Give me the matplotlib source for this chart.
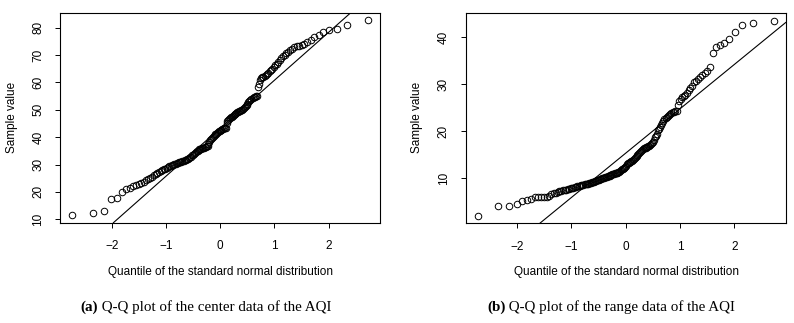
import numpy as np
import matplotlib
matplotlib.use("Agg")
import matplotlib.pyplot as plt
from statistics import NormalDist

# sorted sample values (n = 158 each)
center_aqi = [
    11.6, 12.4, 12.9, 17.3, 17.8, 19.8, 21.0, 21.4, 22.0, 22.4,
    22.9, 23.4, 23.8, 24.3, 24.7, 25.2, 25.6, 26.0, 26.4, 26.8,
    27.2, 27.5, 27.9, 28.3, 28.5, 28.8, 29.0, 29.3, 29.5, 29.7,
    29.9, 30.1, 30.3, 30.5, 30.6, 30.8, 30.9, 31.0, 31.2, 31.4,
    31.5, 31.7, 31.9, 32.1, 32.3, 32.6, 32.9, 33.3, 33.6, 34.0,
    34.3, 34.5, 34.8, 35.0, 35.3, 35.5, 35.6, 35.8, 35.9, 36.1,
    36.2, 36.4, 36.5, 36.7, 36.9, 37.5, 38.3, 39.0, 39.5, 39.8,
    40.1, 40.4, 40.7, 41.0, 41.3, 41.6, 41.9, 42.1, 42.3, 42.5,
    42.7, 42.9, 43.0, 43.2, 43.3, 43.5, 45.3, 45.8, 46.2, 46.6,
    46.9, 47.2, 47.5, 47.8, 48.0, 48.3, 48.5, 48.8, 49.0, 49.2,
    49.4, 49.6, 49.8, 50.0, 50.3, 50.6, 51.0, 51.4, 51.8, 52.2,
    52.7, 53.2, 53.6, 54.0, 54.3, 54.5, 54.7, 54.9, 55.1, 58.3,
    59.5, 60.8, 61.5, 61.8, 62.1, 62.4, 62.8, 63.2, 63.6, 64.1,
    64.6, 65.0, 65.6, 66.2, 66.8, 67.3, 68.0, 68.8, 69.5, 70.0,
    70.6, 71.2, 71.8, 72.3, 72.8, 73.1, 73.4, 73.6, 74.0, 74.8,
    75.5, 76.6, 77.2, 78.4, 79.0, 79.5, 81.0, 82.6,
]

range_aqi = [
    2.0, 4.0, 4.0, 4.5, 5.0, 5.4, 5.5, 6.0, 6.0, 6.0,
    6.0, 6.0, 6.1, 6.5, 6.7, 6.8, 7.0, 7.2, 7.3, 7.4,
    7.5, 7.5, 7.6, 7.7, 7.8, 7.8, 7.9, 8.0, 8.1, 8.2,
    8.3, 8.4, 8.5, 8.5, 8.6, 8.7, 8.7, 8.8, 8.8, 8.9,
    9.0, 9.0, 9.1, 9.1, 9.2, 9.3, 9.4, 9.5, 9.5, 9.6,
    9.7, 9.8, 9.9, 10.0, 10.1, 10.2, 10.3, 10.3, 10.4, 10.5,
    10.5, 10.6, 10.7, 10.8, 10.9, 10.9, 11.0, 11.0, 11.1, 11.1,
    11.2, 11.3, 11.5, 11.7, 11.9, 12.0, 12.1, 12.2, 12.4, 12.6,
    12.9, 13.2, 13.3, 13.4, 13.5, 13.6, 13.7, 13.8, 14.0, 14.2,
    14.5, 14.7, 15.0, 15.2, 15.4, 15.6, 15.8, 16.0, 16.2, 16.3,
    16.4, 16.5, 16.6, 16.7, 16.8, 16.9, 17.0, 17.2, 17.4, 17.7,
    18.2, 18.8, 19.0, 19.4, 20.2, 20.5, 20.8, 21.3, 21.8, 22.2,
    22.5, 22.8, 23.0, 23.2, 23.4, 23.6, 23.8, 24.0, 24.1, 24.2,
    24.3, 25.6, 26.4, 26.8, 27.2, 27.5, 27.8, 28.2, 28.7, 29.1,
    29.6, 30.4, 30.7, 31.2, 31.6, 32.0, 32.4, 32.9, 33.6, 36.6,
    38.0, 38.4, 38.7, 39.6, 41.2, 42.6, 43.0, 43.6,
]

x_ticks = [-2, -1, 0, 1, 2]
y_ticks_center = [10, 20, 30, 40, 50, 60, 70, 80]
y_ticks_range = [10, 20, 30, 40]

xlabel = "Quantile of the standard normal distribution"
ylabel = "Sample value"
captions = [("(a)", " Q-Q plot of the center data of the AQI"),
            ("(b)", " Q-Q plot of the range data of the AQI")]

plt.rcParams['font.family'] = ['Liberation Sans', 'DejaVu Sans']
FS = 8.5


def qq(ax, values, yticks):
    y = np.sort(np.array(values))
    n = len(y)
    nd = NormalDist()
    p = (np.arange(1, n + 1) - 0.5) / n
    x = np.array([nd.inv_cdf(v) for v in p])
    ax.plot(x, y, 'o', mfc='none', mec='black', ms=4.7, mew=0.7)
    # qqline: through first and third quartiles
    q1, q3 = np.quantile(y, [0.25, 0.75])
    z1, z3 = nd.inv_cdf(0.25), nd.inv_cdf(0.75)
    slope = (q3 - q1) / (z3 - z1)
    ax.axline((z1, q1), slope=slope, color='black', lw=0.8)
    ax.margins(x=0.04, y=0.04)
    ax.set_xticks(x_ticks)
    ax.set_xticklabels(["\u22122", "\u22121", "0", "1", "2"])
    ax.set_yticks(yticks)
    ax.set_yticklabels([str(t) for t in yticks], rotation=90, va='center')
    ax.tick_params(direction='out', length=3.5, width=0.7, labelsize=FS)
    ax.tick_params(axis='x', pad=9)
    ax.tick_params(axis='y', pad=8)
    for s in ax.spines.values():
        s.set_linewidth(0.8)


fig = plt.figure(figsize=(7.94, 3.23), dpi=100)
W, H = 794, 323

ax1 = fig.add_axes([60.3 / W, 1 - 222.7 / H, (380 - 60.3) / W, 210 / H])
ax2 = fig.add_axes([465.7 / W, 1 - 223.3 / H, (785.7 - 465.7) / W, 210.6 / H])
qq(ax1, center_aqi, y_ticks_center)
qq(ax2, range_aqi, y_ticks_range)

for ax, ylx, cx in [(ax1, 12, 220), (ax2, 417, 626)]:
    fig.text(cx / W, 1 - 272 / H, xlabel, ha='center', va='center', fontsize=FS)
    fig.text(ylx / W, 1 - 117 / H, ylabel, ha='center', va='center',
             rotation=90, fontsize=FS)

for (bold, rest), left in zip(captions, [80, 487]):
    t = fig.text(left / W, 1 - 311 / H, bold, fontsize=10.8, fontweight='bold',
                 family='Liberation Serif', ha='left', va='baseline')
    ax1.annotate(rest, xy=(1, 0), xycoords=t, fontsize=10.8,
                 family='Liberation Serif', ha='left', va='bottom',
                 annotation_clip=False)

fig.savefig("out.png", dpi=100)
